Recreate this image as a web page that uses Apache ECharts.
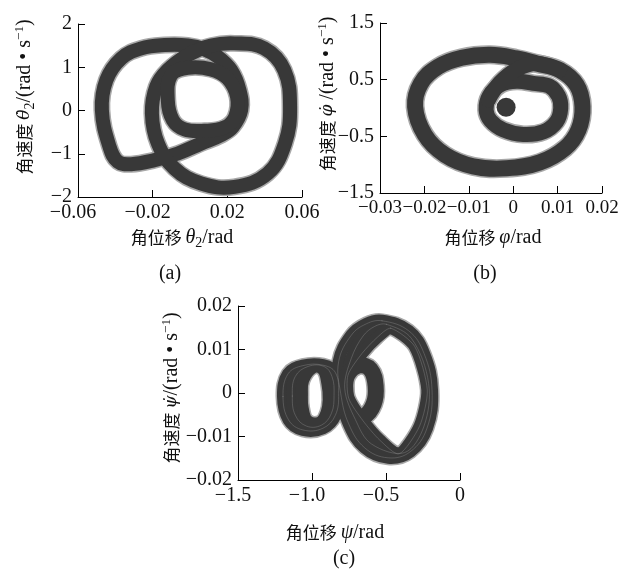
<!DOCTYPE html>
<html>
<head>
<meta charset="utf-8">
<script src="https://cdn.jsdelivr.net/npm/echarts@6/dist/echarts.min.js"></script>
<style>
html, body { margin: 0; padding: 0; background: #fff; }
#chart { width: 635px; height: 571px; }
</style>
</head>
<body>
<div id="chart"></div>
<script>
// ---- (a) theta2 : angular displacement vs angular velocity ----
const thetaTicksX = [-0.06, -0.02, 0.02, 0.06];
const thetaTicksY = [-2, -1, 0, 1, 2];
const thetaLeftLoop = [
  [-0.0472, 0.01], [-0.0448, 0.704], [-0.0368, 1.205], [-0.0261, 1.437], [-0.0136, 1.514],
  [-0.0012, 1.506], [0.0078, 1.414], [0.0149, 1.244], [0.0220, 0.935], [0.0265, 0.472],
  [0.0274, 0.009], [0.0229, -0.377], [0.0167, -0.569], [0.0060, -0.762], [-0.0065, -0.994],
  [-0.0190, -1.148], [-0.0315, -1.241], [-0.0386, -1.187], [-0.0431, -0.840]
];
const thetaRightLoop = [
  [0.0238, 1.552], [0.0398, 1.437], [0.0505, 0.935], [0.0536, 0.086], [0.0509, -0.762],
  [0.0416, -1.457], [0.0238, -1.765], [0.0060, -1.688], [-0.0083, -1.341], [-0.0172, -0.762],
  [-0.0204, -0.068], [-0.0181, 0.549], [-0.0119, 0.935], [-0.0012, 1.282], [0.0113, 1.500]
];
const thetaInnerLoop = [
  [-0.0101, 0.820], [-0.0012, 0.989], [0.0113, 0.951], [0.0202, 0.742], [0.0252, 0.318],
  [0.0242, -0.145], [0.0185, -0.392], [0.0078, -0.469], [-0.0029, -0.438], [-0.0092, -0.222],
  [-0.0119, 0.241]
];

// ---- (b) phi ----
const phiTicksX = [-0.03, -0.02, -0.01, 0, 0.01, 0.02];
const phiTicksY = [-1.5, -0.5, 0.5, 1.5];
const phiOuterLoop = [
  [-0.0221, 0.024], [-0.0208, 0.434], [-0.0169, 0.727], [-0.0116, 0.886], [-0.0052, 0.938],
  [0.0008, 0.874], [0.0053, 0.786], [0.0105, 0.669], [0.0143, 0.405], [0.0156, 0.024],
  [0.0147, -0.386], [0.0117, -0.708], [0.0060, -0.960], [-0.0015, -1.065], [-0.0090, -1.030],
  [-0.0154, -0.825], [-0.0199, -0.474]
];
const phiRingLoop = [
  [-0.0061, -0.034], [-0.0054, 0.212], [-0.0028, 0.411], [0.0008, 0.470], [0.0045, 0.434],
  [0.0081, 0.388], [0.0102, 0.212], [0.0107, -0.005], [0.0098, -0.239], [0.0068, -0.421],
  [0.0023, -0.468], [-0.0022, -0.386], [-0.0051, -0.222]
];
const phiBridge = [[-0.0056, 0.142], [-0.0030, 0.446], [0.0008, 0.681], [0.0053, 0.786], [0.0105, 0.669]];
const phiCore = [[-0.0016, 0.013]];

// ---- (c) psi ----
const psiTicksX = [-1.5, -1.0, -0.5, 0];
const psiTicksY = [-0.02, -0.01, 0, 0.01, 0.02];
const psiBigOuter = [
  [-0.527, 0.0166], [-0.347, 0.0143], [-0.243, 0.0091], [-0.189, 0.0007], [-0.223, -0.0081],
  [-0.336, -0.0135], [-0.486, -0.0149], [-0.644, -0.0126], [-0.752, -0.0071], [-0.806, -0.0001],
  [-0.820, 0.0072], [-0.734, 0.0133], [-0.633, 0.0159]
];
const psiBigMid = [
  [-0.498, 0.0158], [-0.327, 0.0125], [-0.212, 0.0022], [-0.243, -0.0076], [-0.374, -0.0137],
  [-0.599, -0.0117], [-0.707, -0.0061], [-0.779, 0.0011], [-0.734, 0.0080], [-0.655, 0.0131],
  [-0.577, 0.0153]
];
const psiBigInner = [
  [-0.468, 0.0149], [-0.306, 0.0107], [-0.221, 0.0007], [-0.273, -0.0076], [-0.412, -0.0140],
  [-0.543, -0.0108], [-0.655, -0.0064], [-0.752, -0.0012], [-0.757, 0.0041], [-0.662, 0.0091],
  [-0.559, 0.0128]
];
const psiSmallOuter = [
  [-1.196, -0.0008], [-1.162, 0.0044], [-1.061, 0.0063], [-0.926, 0.0064], [-0.842, 0.0047],
  [-0.820, -0.0001], [-0.842, -0.0051], [-0.926, -0.0081], [-1.061, -0.0085], [-1.158, -0.0062]
];
const psiSmallMid = [
  [-1.133, -0.0007], [-1.113, 0.0038], [-1.027, 0.0061], [-0.919, 0.0061], [-0.865, 0.0038],
  [-0.851, -0.0005], [-0.869, -0.0047], [-0.937, -0.0074], [-1.038, -0.0076], [-1.113, -0.0051]
];
const psiSmallInner = [
  [-1.068, -0.0005], [-1.059, 0.0030], [-0.993, 0.0059], [-0.926, 0.0054], [-0.896, 0.0022],
  [-0.887, -0.0016], [-0.903, -0.0047], [-0.948, -0.0068], [-1.031, -0.0064], [-1.063, -0.0035]
];
const psiMidLoop = [
  [-0.777, 0.0003], [-0.761, 0.0041], [-0.685, 0.0063], [-0.604, 0.0054], [-0.570, 0.0016],
  [-0.583, -0.0025], [-0.649, -0.0054], [-0.730, -0.0053], [-0.770, -0.0030]
];

const SERIF = 'Liberation Serif';
const CJK = 'Noto Sans CJK SC';
const INK = '#111';
const BAND = '#383838';
const HALO = '#a8a8a8';
const STREAK = '#8c8c8c';

const numStyle = { fontFamily: SERIF, fontSize: 20, color: INK };

function fmtMinus(v) { return v === 0 ? '0' : String(v).replace('-', '\u2212'); }
function fmtOneDecimal(v) { return v === 0 ? '0' : v.toFixed(1).replace('-', '\u2212'); }
// negative x labels keep their digits centred on the tick, the minus hangs to the left
function hanging(fmt) {
  return function (v) { return v < 0 ? '{t|' + fmt(v) + '}{pad| }' : '{t|' + fmt(v) + '}'; };
}

function makeAxis(grid, min, max, ticks, formatter, fontSize) {
  const size = fontSize || 20;
  return {
    type: 'value', gridIndex: grid, min: min, max: max,
    axisLine: { show: true, onZero: false, lineStyle: { color: '#000', width: 1 } },
    axisTick: { show: true, inside: true, length: 7, customValues: ticks, lineStyle: { color: '#000', width: 1 } },
    axisLabel: {
      customValues: ticks, formatter: formatter, fontFamily: SERIF, fontSize: size, color: INK,
      margin: 6, showMinLabel: true, showMaxLabel: true, hideOverlap: false,
      rich: {
        t: { fontFamily: SERIF, fontSize: size, color: INK },
        pad: { fontFamily: SERIF, fontSize: size, width: 10 }
      }
    },
    splitLine: { show: false }
  };
}

// one trajectory band, stroked as a smooth path through the sampled states
function trace(pts, grid, width, color, z, closed, smooth, opacity) {
  return {
    type: 'custom', coordinateSystem: 'cartesian2d', xAxisIndex: grid, yAxisIndex: grid,
    data: pts, z: z, silent: true,
    renderItem: function (params, api) {
      if (params.dataIndex !== 0) return null;
      const pixels = pts.map(function (p) { return api.coord(p); });
      return {
        type: closed ? 'polygon' : 'polyline',
        shape: { points: pixels, smooth: smooth },
        style: {
          fill: 'none', stroke: color, lineWidth: width, opacity: opacity,
          lineJoin: 'round', lineCap: 'round'
        }
      };
    }
  };
}

const series = [];
function band(pts, grid, width, closed, smooth, streak) {
  const s = smooth == null ? 0.4 : smooth;
  series.push(trace(pts, grid, width + 3, HALO, 1, closed, s, 1));
  series.push(trace(pts, grid, width, BAND, 2, closed, s, 1));
  if (streak) series.push(trace(pts, grid, 1, STREAK, 3, closed, s, 0.4));
}

band(thetaLeftLoop, 0, 14, true);
band(thetaRightLoop, 0, 14, true);
band(thetaInnerLoop, 0, 14, true);

band(phiOuterLoop, 1, 16, true);
band(phiRingLoop, 1, 15, true);
band(phiBridge, 1, 15, false);
series.push({
  type: 'scatter', xAxisIndex: 1, yAxisIndex: 1, data: phiCore, symbol: 'circle', symbolSize: 19,
  z: 3, silent: true, itemStyle: { color: BAND, opacity: 1 }
});

band(psiBigOuter, 2, 12, true, 0.4, true);
band(psiBigMid, 2, 12, true, 0.35, true);
band(psiBigInner, 2, 12, true, 0.25, true);
band(psiSmallOuter, 2, 12, true, 0.4, true);
band(psiSmallMid, 2, 12, true, 0.4, true);
band(psiSmallInner, 2, 12, true, 0.4, false);
band(psiMidLoop, 2, 16, true, 0.4, false);

const rich = {
  cn: { fontFamily: CJK, fontSize: 17, fill: INK, lineHeight: 24, verticalAlign: 'middle' },
  it: { fontFamily: SERIF, fontStyle: 'italic', fontSize: 20, fill: INK, lineHeight: 24, verticalAlign: 'middle' },
  itd: { fontFamily: 'DejaVu Serif', fontStyle: 'italic', fontSize: 17, fill: INK, lineHeight: 24, verticalAlign: 'middle' },
  rm: { fontFamily: SERIF, fontSize: 20, fill: INK, lineHeight: 24, verticalAlign: 'middle' },
  sub: { fontFamily: SERIF, fontSize: 14, fill: INK, lineHeight: 14, verticalAlign: 'bottom' },
  sup: { fontFamily: SERIF, fontSize: 13, fill: INK, lineHeight: 13, verticalAlign: 'top' }
};

function label(text, x, y, rotated) {
  return {
    type: 'text', x: x, y: y, rotation: rotated ? Math.PI / 2 : 0, silent: true,
    style: { text: text, rich: rich, align: 'center', verticalAlign: 'middle', fill: INK }
  };
}

const chart = echarts.init(document.getElementById('chart'), null, { renderer: 'canvas' });
chart.setOption({
  animation: false,
  backgroundColor: '#fff',
  grid: [
    { left: 78, top: 24, width: 224, height: 173 },
    { left: 380, top: 23, width: 222, height: 170 },
    { left: 238, top: 306, width: 222, height: 174 }
  ],
  xAxis: [
    makeAxis(0, -0.06, 0.06, thetaTicksX, hanging(fmtMinus)),
    makeAxis(1, -0.03, 0.02, phiTicksX, fmtMinus, 19),
    makeAxis(2, -1.5, 0, psiTicksX, hanging(fmtOneDecimal))
  ],
  yAxis: [
    makeAxis(0, -2, 2, thetaTicksY, fmtMinus),
    makeAxis(1, -1.5, 1.5, phiTicksY, fmtMinus),
    makeAxis(2, -0.02, 0.02, psiTicksY, fmtMinus)
  ],
  series: series,
  graphic: [
    label('{cn|角速度 }{itd|θ\u0307}{sub|2}{rm|/(rad • s}{sup|\u22121}{rm|)}', 25, 97, true),
    label('{cn|角位移 }{it|θ}{sub|2}{rm|/rad}', 182, 238, false),
    label('{rm|(a)}', 170, 274, false),
    label('{cn|角速度 }{itd|φ\u0307}{rm| /(rad • s}{sup|\u22121}{rm|)}', 328, 94, true),
    label('{cn|角位移 }{it|φ}{rm|/rad}', 493, 238, false),
    label('{rm|(b)}', 485, 274, false),
    label('{cn|角速度 }{itd|ψ\u0307}{rm|/(rad • s}{sup|\u22121}{rm|)}', 172, 388, true),
    label('{cn|角位移 }{it|ψ}{rm|/rad}', 335, 533, false),
    label('{rm|(c)}', 344, 559, false)
  ]
});
</script>
</body>
</html>
